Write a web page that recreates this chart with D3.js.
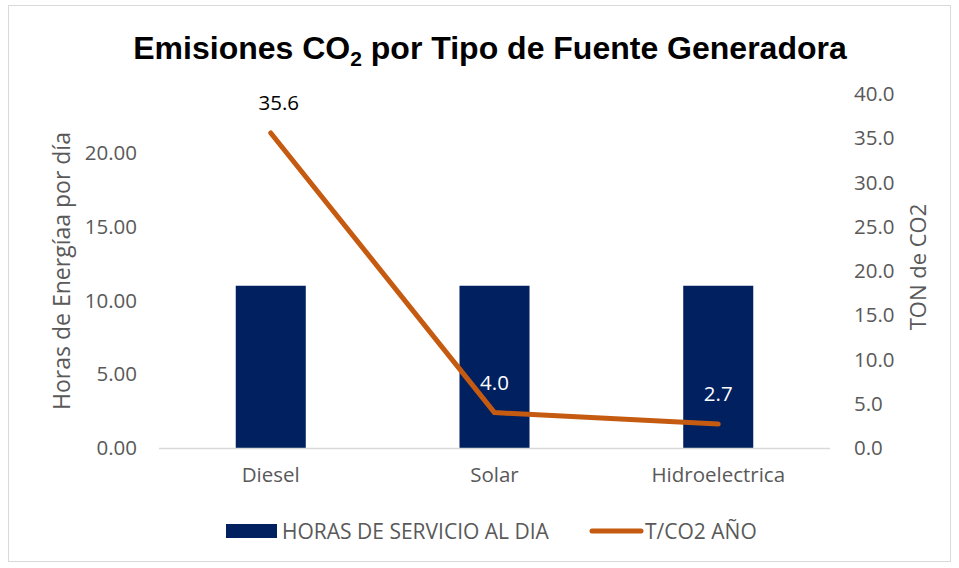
<!DOCTYPE html>
<html>
<head>
<meta charset="utf-8">
<script src="https://cdn.jsdelivr.net/npm/d3@7"></script>
<style>
  body { margin: 0; background: #fff; }
  text { font-family: "Open Sans", "Noto Sans", sans-serif; }
</style>
</head>
<body>
<script>
var categories = ["Diesel", "Solar", "Hidroelectrica"];
var horas = [11, 11, 11];
var toneladas = [35.6, 4.0, 2.7];
var leftTicks = [0, 5, 10, 15, 20];
var rightTicks = [0, 5, 10, 15, 20, 25, 30, 35, 40];

var width = 959, height = 568;
var margin = {top: 94, right: 129, bottom: 120, left: 159};
var w = width - margin.left - margin.right;
var h = height - margin.top - margin.bottom;

var svg = d3.select("body").append("svg")
    .attr("width", width)
    .attr("height", height);

// chart border
svg.append("rect")
    .attr("x", 8.5).attr("y", 5.5)
    .attr("width", 942).attr("height", 556)
    .attr("fill", "#fff")
    .attr("stroke", "#d9d9d9");

// title with subscript
var title = svg.append("text")
    .attr("x", 490)
    .attr("y", 59)
    .attr("text-anchor", "middle")
    .style("font-family", "'Liberation Sans', Arial, sans-serif")
    .style("font-weight", "bold")
    .style("font-size", "32px")
    .attr("fill", "#000");
title.append("tspan").text("Emisiones CO");
title.append("tspan").attr("dy", 7).style("font-size", "21px").text("2");
title.append("tspan").attr("dy", -7).text(" por Tipo de Fuente Generadora");

var g = svg.append("g")
    .attr("transform", "translate(" + margin.left + "," + margin.top + ")");

var x = d3.scaleBand().domain(categories).range([0, w]).paddingInner(0.687).paddingOuter(0.343);
var xPoint = function(d) { return x(d) + x.bandwidth() / 2; };
var yL = d3.scaleLinear().domain([0, 24]).range([h, 0]);
var yR = d3.scaleLinear().domain([0, 40]).range([h, 0]);

var leftAxis = d3.axisLeft(yL).tickValues(leftTicks).tickSize(0).tickPadding(22)
    .tickFormat(d3.format(".2f"));
var rightAxis = d3.axisRight(yR).tickValues(rightTicks).tickSize(0).tickPadding(24)
    .tickFormat(d3.format(".1f"));
var bottomAxis = d3.axisBottom(x).tickSize(0).tickPadding(19);

function styleAxis(sel) {
  sel.select(".domain").remove();
  sel.selectAll("text")
      .style("font-size", "20.5px")
      .attr("fill", "#595959");
}

g.append("g").call(leftAxis).call(styleAxis);
g.append("g").attr("transform", "translate(" + w + ",0)").call(rightAxis).call(styleAxis);

// bars
g.selectAll(".bar")
    .data(horas)
  .enter().append("rect")
    .attr("class", "bar")
    .attr("x", function(d, i) { return x(categories[i]); })
    .attr("width", x.bandwidth())
    .attr("y", function(d) { return yL(d); })
    .attr("height", function(d) { return h - yL(d); })
    .attr("fill", "#002060");

// category axis baseline
g.append("line")
    .attr("x1", 0).attr("x2", w)
    .attr("y1", h + 0.5).attr("y2", h + 0.5)
    .attr("stroke", "#d9d9d9")
    .attr("stroke-width", 1.5);

g.append("g").attr("transform", "translate(0," + h + ")").call(bottomAxis)
    .call(styleAxis);

// line
var line = d3.line()
    .x(function(d, i) { return xPoint(categories[i]); })
    .y(function(d) { return yR(d); });

g.append("path")
    .datum(toneladas)
    .attr("d", line)
    .attr("fill", "none")
    .attr("stroke", "#c55a11")
    .attr("stroke-width", 5)
    .attr("stroke-linejoin", "round")
    .attr("stroke-linecap", "round");

// data labels
g.selectAll(".lbl")
    .data(toneladas)
  .enter().append("text")
    .attr("class", "lbl")
    .attr("x", function(d, i) { return xPoint(categories[i]) + (i === 0 ? 8 : 0); })
    .attr("y", function(d) { return yR(d) - 23; })
    .attr("text-anchor", "middle")
    .style("font-size", "20.5px")
    .attr("fill", function(d, i) { return i === 0 ? "#000" : "#fff"; })
    .text(function(d) { return d.toFixed(1); });

// axis titles
svg.append("text")
    .attr("transform", "translate(70,271) rotate(-90)")
    .attr("text-anchor", "middle")
    .style("font-size", "23px")
    .attr("fill", "#595959")
    .text("Horas de Energíaa por día");

svg.append("text")
    .attr("transform", "translate(926,267) rotate(-90)")
    .attr("text-anchor", "middle")
    .style("font-size", "22px")
    .attr("fill", "#595959")
    .text("TON de CO2");

// legend
var leg = svg.append("g").attr("transform", "translate(0,531)");
leg.append("rect")
    .attr("x", 226).attr("y", -7)
    .attr("width", 51).attr("height", 14)
    .attr("fill", "#002060");
leg.append("text")
    .attr("x", 282).attr("y", 8)
    .style("font-size", "21px")
    .attr("fill", "#595959")
    .text("HORAS DE SERVICIO AL DIA");
leg.append("line")
    .attr("x1", 592).attr("x2", 641)
    .attr("y1", 0).attr("y2", 0)
    .attr("stroke", "#c55a11")
    .attr("stroke-width", 5)
    .attr("stroke-linecap", "round");
leg.append("text")
    .attr("x", 645).attr("y", 8)
    .style("font-size", "21px")
    .attr("fill", "#595959")
    .text("T/CO2 AÑO");
</script>
</body>
</html>
